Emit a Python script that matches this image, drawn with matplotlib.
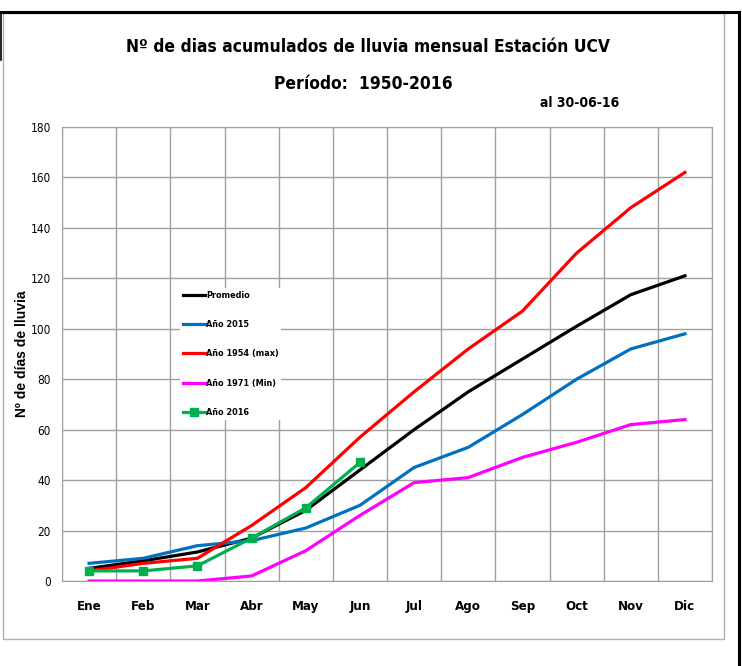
import matplotlib.pyplot as plt
from matplotlib.patches import Rectangle
from matplotlib.lines import Line2D

meses = ['Ene', 'Feb', 'Mar', 'Abr', 'May', 'Jun', 'Jul', 'Ago', 'Sep', 'Oct', 'Nov', 'Dic']
promedio = [5, 8, 11.5, 17, 28, 44, 60, 75, 88, 101, 113.5, 121]
ano_2015 = [7, 9, 14, 16, 21, 30, 45, 53, 66, 80, 92, 98]
ano_1954 = [4, 7, 9, 22, 37, 57, 75, 92, 107, 130, 148, 162]
ano_1971 = [0, 0, 0, 2, 12, 26, 39, 41, 49, 55, 62, 64]
ano_2016 = [4, 4, 6, 17, 29, 47]

cond = dict(family='DejaVu Sans', stretch='condensed')

W, H = 742, 666
fig = plt.figure(figsize=(W / 100, H / 100), dpi=100)

# marcos exteriores
fig.patches.append(Rectangle((3 / W, (H - 639) / H), (724 - 3) / W, (639 - 13) / H,
                             transform=fig.transFigure, fill=False, edgecolor='#b0b0b0', lw=1))
fig.add_artist(Line2D([0.5 / W, 739 / W], [(H - 12) / H] * 2, color='black', lw=2.2))
fig.add_artist(Line2D([739 / W] * 2, [0, (H - 12) / H], color='black', lw=2.2))
fig.add_artist(Line2D([0.8 / W] * 2, [(H - 12) / H, (H - 60) / H], color='black', lw=1.2))

ax = fig.add_axes([62 / W, (H - 581) / H, 650 / W, 454 / H])
x = list(range(len(meses)))

ax.plot(x, promedio, color='black', lw=2.3, label='Promedio')
ax.plot(x, ano_2015, color='#0070C0', lw=2.3, label='Año 2015')
ax.plot(x, ano_1954, color='#FF0000', lw=2.3, label='Año 1954 (max)')
ax.plot(x, ano_1971, color='#FF00FF', lw=2.3, label='Año 1971 (Min)')
ax.plot(x[:len(ano_2016)], ano_2016, color='#00B050', lw=2.3, marker='s', ms=6,
        label='Año 2016')

ax.set_xlim(-0.5, 11.5)
ax.set_ylim(0, 180)
ax.set_yticks(range(0, 181, 20))
ax.set_xticks(x)
ax.set_xticklabels(meses, fontweight='bold', fontsize=9.5, **cond)
ax.set_xticks([i + 0.5 for i in range(-1, 12)], minor=True)
ax.tick_params(axis='x', which='both', length=0, pad=14)
ax.tick_params(axis='y', length=0, pad=8)
for t in ax.get_yticklabels():
    t.set_family('DejaVu Sans')
    t.set_stretch('condensed')
    t.set_fontsize(8.5)
ax.grid(True, which='minor', axis='x', color='#a0a0a0', lw=1)
ax.grid(True, which='major', axis='y', color='#a0a0a0', lw=1)
for s in ax.spines.values():
    s.set_color('#a0a0a0')

ax.set_ylabel('Nº de días de lluvia', fontsize=10, fontweight='bold', family='Liberation Sans')
ax.yaxis.set_label_coords(-0.05, 0.5)

leg = ax.legend(loc='upper left', bbox_to_anchor=(0.175, 0.655), frameon=True, edgecolor='none',
                framealpha=1, handlelength=2.4, handletextpad=0.15, labelspacing=2.25,
                borderpad=0.3, prop={'family': 'DejaVu Sans', 'stretch': 'condensed',
                                     'weight': 'bold', 'size': 6.5})
leg.get_frame().set_boxstyle('square', pad=0)

fig.text(368 / W, 1 - 47 / H, 'Nº de dias acumulados de lluvia mensual Estación UCV',
         ha='center', va='center', fontsize=12.5, fontweight='bold', **cond)
fig.text(363 / W, 1 - 84 / H, 'Período:  1950-2016',
         ha='center', va='center', fontsize=12.5, fontweight='bold', **cond)
fig.text(580 / W, 1 - 103 / H, 'al 30-06-16',
         ha='center', va='center', fontsize=10, fontweight='bold', **cond)

fig.savefig('out.png', dpi=100)
